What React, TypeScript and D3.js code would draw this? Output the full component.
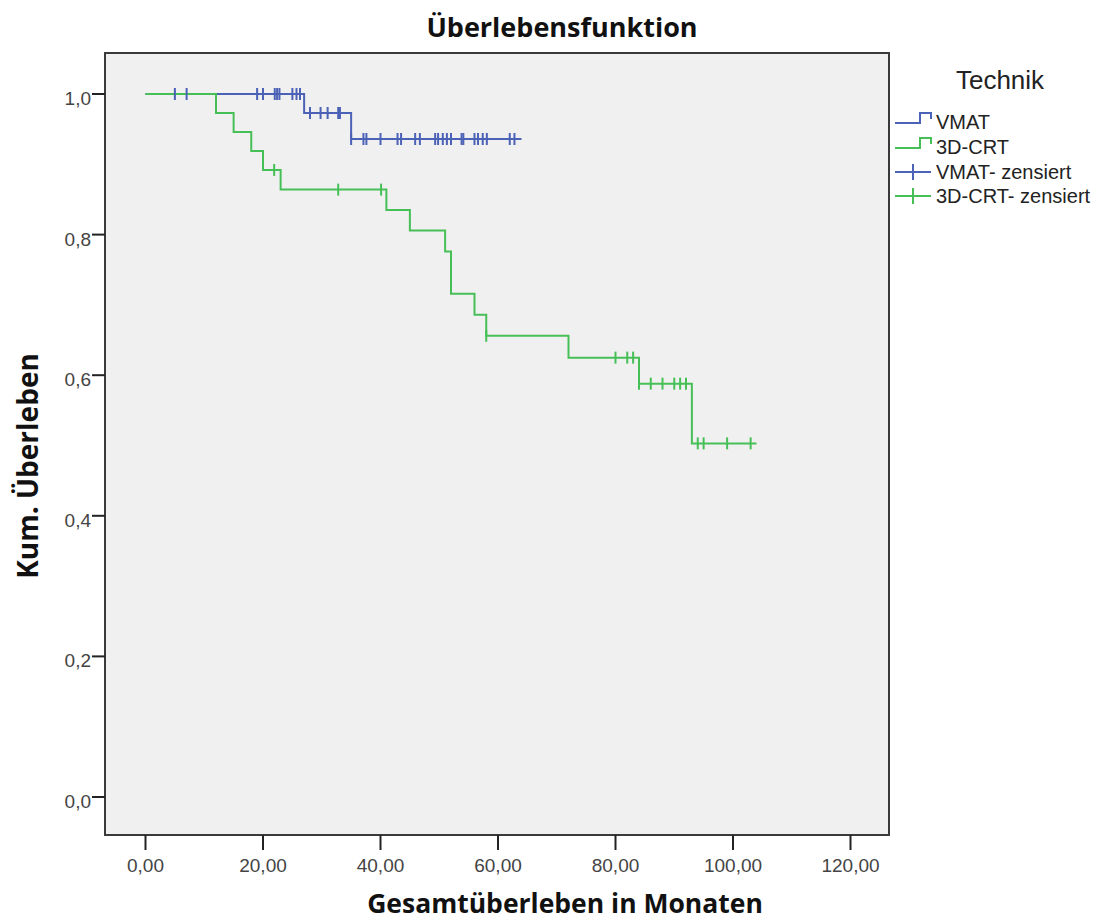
import React from "react";
import * as d3 from "d3";

// ---- Data ----
const xTicks = [0, 20, 40, 60, 80, 100, 120];
const yTicks = [0, 0.2, 0.4, 0.6, 0.8, 1.0];

const vmatStepTimes = [0, 27, 35];
const vmatStepSurv = [1.0, 0.973, 0.936];
const vmatEnd = 64;
const vmatCensored = [5, 7, 19, 20, 22, 22.4, 22.8, 25, 25.7, 26.3, 28, 29.8, 31, 32.8, 33.1, 35, 37.1, 37.6, 40, 42.9, 43.5, 45.9, 46.7, 49.3, 49.8, 50.6, 51.3, 52, 53.8, 54.1, 56, 56.6, 57.4, 58.1, 62, 62.8];

const crtStepTimes = [0, 12, 15, 18, 20, 23, 41, 45, 51, 52, 56, 58, 72, 84, 93];
const crtStepSurv = [1.0, 0.973, 0.946, 0.919, 0.892, 0.864, 0.835, 0.806, 0.776, 0.716, 0.686, 0.656, 0.625, 0.588, 0.503];
const crtEnd = 104;
const crtCensored = [21.9, 32.8, 40.1, 58, 80, 82, 83, 84, 86, 88, 90, 91, 92, 94, 95, 99, 103];

const seriesNames = ["VMAT", "3D-CRT", "VMAT- zensiert", "3D-CRT- zensiert"];
const BLUE = "#4b62b6";
const GREEN = "#46c056";

function survAt(times: number[], surv: number[], t: number) {
  let s = surv[0];
  for (let i = 0; i < times.length; i++) if (times[i] <= t) s = surv[i];
  return s;
}

export default function App() {
  const W = 1099, H = 922;
  const frame = { x0: 105, y0: 53, x1: 889, y1: 835 };
  const x = d3.scaleLinear().domain([0, 120]).range([145.5, 850.5]);
  const y = d3.scaleLinear().domain([0, 1]).range([797, 94]);

  const stepPts = (times: number[], surv: number[], end: number) => {
    const pts: [number, number][] = times.map((t, i) => [t, surv[i]]);
    pts.push([end, surv[surv.length - 1]]);
    return pts;
  };
  const line = d3.line<[number, number]>().x(d => x(d[0])).y(d => y(d[1])).curve(d3.curveStepAfter);
  const vmatPath = line(stepPts(vmatStepTimes, vmatStepSurv, vmatEnd)) || "";
  const crtPath = line(stepPts(crtStepTimes, crtStepSurv, crtEnd)) || "";

  const censorMarks = (times: number[], st: number[], ss: number[], color: string, key: string) =>
    times.map((t, i) => {
      const cx = x(t), cy = y(survAt(st, ss, t));
      return <line key={key + i} x1={cx} x2={cx} y1={cy - 6} y2={cy + 6} stroke={color} strokeWidth={2} />;
    });

  const fmt = (v: number, d: number) => v.toFixed(d).replace(".", ",");
  const tickFont = "'Liberation Sans', Arial, sans-serif";
  const boldFont = "'Open Sans', 'Noto Sans', sans-serif";

  const legendY = [122, 147, 172, 196];
  const lx0 = 895, lx1 = 931;

  return (
    <svg width={W} height={H} style={{ position: "absolute", left: 0, top: 0, background: "#fff" }}>
      <text x={562} y={37} textAnchor="middle" fontFamily={boldFont} fontWeight="bold" fontSize={27} fill="#111">Überlebensfunktion</text>
      <rect x={frame.x0} y={frame.y0} width={frame.x1 - frame.x0} height={frame.y1 - frame.y0} fill="#f0f0f0" stroke="#3a3a3a" strokeWidth={2} />

      {yTicks.map(v => (
        <g key={"y" + v}>
          <line x1={92} x2={frame.x0} y1={y(v)} y2={y(v)} stroke="#222" strokeWidth={2} />
          <text x={91} y={y(v) + 11} textAnchor="end" fontFamily={tickFont} fontSize={19} fill="#444">{fmt(v, 1)}</text>
        </g>
      ))}
      {xTicks.map(v => (
        <g key={"x" + v}>
          <line x1={x(v)} x2={x(v)} y1={frame.y1} y2={850} stroke="#222" strokeWidth={2} />
          <text x={x(v)} y={872} textAnchor="middle" fontFamily={tickFont} fontSize={19} fill="#444">{fmt(v, 2)}</text>
        </g>
      ))}

      <text x={565} y={913} textAnchor="middle" fontFamily={boldFont} fontWeight="bold" fontSize={26.5} fill="#111">Gesamtüberleben in Monaten</text>
      <text transform="translate(38,466) rotate(-90)" textAnchor="middle" fontFamily={boldFont} fontWeight="bold" fontSize={28} fill="#111">Kum. Überleben</text>

      <path d={vmatPath} fill="none" stroke={BLUE} strokeWidth={2} />
      <path d={crtPath} fill="none" stroke={GREEN} strokeWidth={2} />
      {censorMarks(vmatCensored, vmatStepTimes, vmatStepSurv, BLUE, "vc")}
      {censorMarks(crtCensored, crtStepTimes, crtStepSurv, GREEN, "cc")}

      <text x={1000} y={89} textAnchor="middle" fontFamily={tickFont} fontSize={26} fill="#222">Technik</text>
      {seriesNames.map((name, i) => {
        const color = i % 2 === 0 ? BLUE : GREEN;
        const cy = legendY[i];
        return (
          <g key={name}>
            {i < 2 ? (
              <path d={`M${lx0},${cy + 1}H920V${cy - 9}H${lx1}V${cy - 3}`} fill="none" stroke={color} strokeWidth={2} />
            ) : (
              <g>
                <line x1={lx0} x2={lx1} y1={cy} y2={cy} stroke={color} strokeWidth={2} />
                <line x1={913} x2={913} y1={cy - 8} y2={cy + 8} stroke={color} strokeWidth={2} />
              </g>
            )}
            <text x={936} y={cy + 7} fontFamily={tickFont} fontSize={20} fill="#222">{name}</text>
          </g>
        );
      })}
    </svg>
  );
}
